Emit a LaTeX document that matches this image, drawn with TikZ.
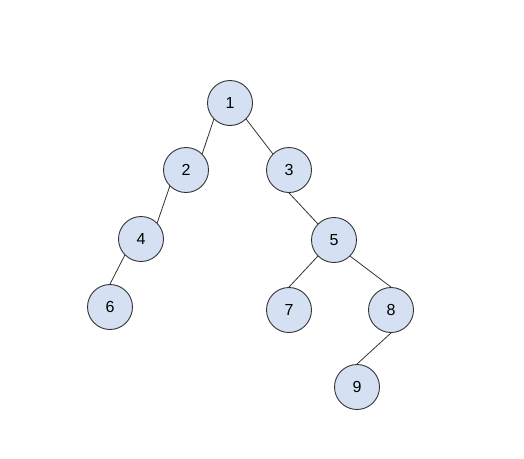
\documentclass[tikz,border=0pt]{standalone}
\usepackage{fontspec}
\setmainfont{Liberation Sans}
\usepackage{xcolor}
\definecolor{nodeblue}{HTML}{D5E1F3}
\definecolor{edgegray}{HTML}{333333}

\begin{document}
\begin{tikzpicture}[x=1pt, y=-1pt,
    treenode/.style={circle, draw=edgegray, fill=nodeblue, line width=0.9pt,
      minimum size=45pt, inner sep=0pt, font=\fontsize{16}{19}\selectfont},
    branch/.style={draw=edgegray, line width=0.8pt}]
  % Keep the page the size of the reference
  \useasboundingbox (0,0) rectangle (524,458);

  % Draw the nodes
  \node[treenode] (n1) at (230,103) {1};
  \node[treenode] (n2) at (186,170) {2};
  \node[treenode] (n3) at (289,170) {3};
  \node[treenode] (n4) at (141,239) {4};
  \node[treenode] (n5) at (334,240) {5};
  \node[treenode] (n6) at (110,307) {6};
  \node[treenode] (n7) at (289,310) {7};
  \node[treenode] (n8) at (391,310) {8};
  \node[treenode] (n9) at (357,387) {9};

  % Draw the branches
  \draw[branch] (n1.south west) -- (n2.north east);
  \draw[branch] (n1.south east) -- (n3.north west);
  \draw[branch] (n2.south west) -- (n4.north east);
  \draw[branch] (n4.south west) -- (n6.north);
  \draw[branch] (n3.south) -- (n5.north west);
  \draw[branch] (n5.south west) -- (n7.north);
  \draw[branch] (n5.south east) -- (n8.north);
  \draw[branch] (n8.south) -- (n9.north);
\end{tikzpicture}
\end{document}
